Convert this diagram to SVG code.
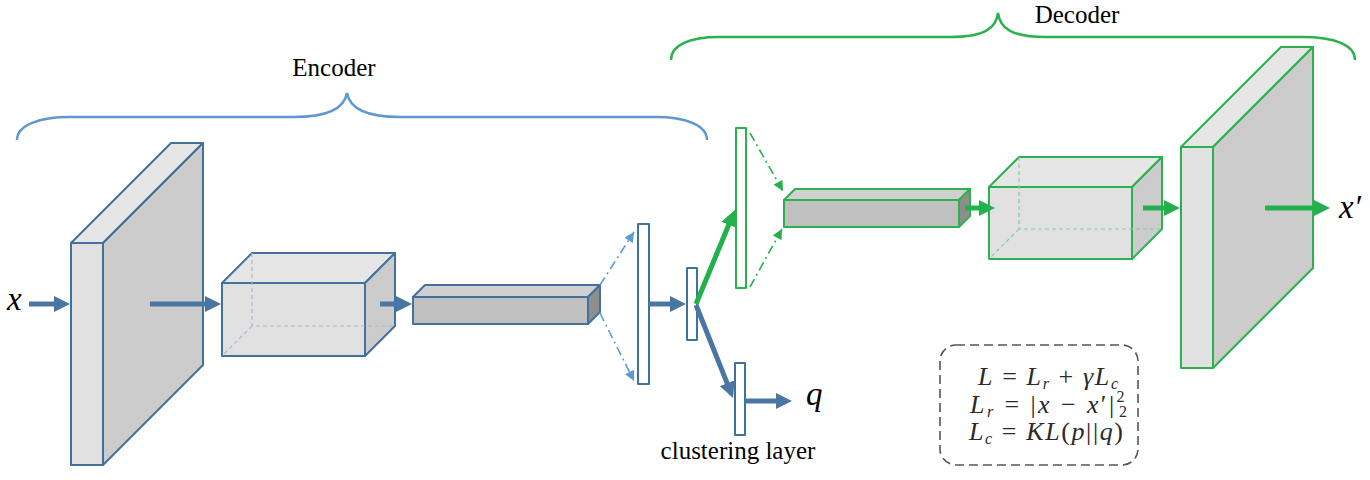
<svg xmlns="http://www.w3.org/2000/svg" width="1370" height="480" viewBox="0 0 1370 480">
<defs>
<style>
.bs{stroke:#41719c;stroke-width:2;stroke-linejoin:round}
.gs{stroke:#2bb24c;stroke-width:2;stroke-linejoin:round}
.f1{fill:#e1e1e1}.f2{fill:#e6e6e6}.f3{fill:#cccccc}
.b1{fill:#c0c0c0}.b2{fill:#d0d0d0}.b3{fill:#8e8e8e}
.w{fill:#ffffff}
.hb{fill:none;stroke:#a8b8ca;stroke-width:1.2;stroke-dasharray:4,3}
.hg{fill:none;stroke:#8cc9a0;stroke-width:1.2;stroke-dasharray:4,3}
.ab{fill:none;stroke:#4b76a3;stroke-width:5}
.ag{fill:none;stroke:#22b14c;stroke-width:5}
.db{fill:none;stroke:#5b9bd5;stroke-width:1.6;stroke-dasharray:9,4,2,4}
.dg{fill:none;stroke:#22b14c;stroke-width:1.6;stroke-dasharray:9,4,2,4}
.brb{fill:none;stroke:#5f97cf;stroke-width:2.5}
.brg{fill:none;stroke:#2bb24c;stroke-width:2.5}
.lbl{font-family:"Liberation Serif","Times New Roman",serif;font-size:25px;fill:#000}
.m{font-family:"Liberation Serif","DejaVu Serif",serif;font-style:italic;fill:#000}
.fm{font-family:"Liberation Serif","DejaVu Serif",serif;font-size:26px;fill:#2a2a2a}
.it{font-style:italic}
.sb{font-size:16px;font-style:italic}
</style>
<marker id="hb" viewBox="0 0 10 10" refX="1" refY="5" markerWidth="3.2" markerHeight="3.2" orient="auto"><path d="M0,0 L10,5 L0,10 z" fill="#4b76a3"/></marker>
<marker id="hg" viewBox="0 0 10 10" refX="1" refY="5" markerWidth="3.2" markerHeight="3.2" orient="auto"><path d="M0,0 L10,5 L0,10 z" fill="#22b14c"/></marker>
<marker id="tb" viewBox="0 0 10 10" refX="10" refY="5" markerWidth="11" markerHeight="10" markerUnits="userSpaceOnUse" orient="auto"><path d="M0,0 L10,5 L0,10 z" fill="#5b9bd5"/></marker>
<marker id="tg" viewBox="0 0 10 10" refX="10" refY="5" markerWidth="11" markerHeight="10" markerUnits="userSpaceOnUse" orient="auto"><path d="M0,0 L10,5 L0,10 z" fill="#22b14c"/></marker>
</defs>
<rect width="1370" height="480" fill="#ffffff"/>

<g id="encoder-brace">
<path class="brb" d="M17,140 C17,125 40,117 69,117 L294,117 C325,117 344,110 347,93 C350,110 369,117 400,117 L656,117 C685,117 707,125 707,140"/>
<text class="lbl" x="334" y="76" text-anchor="middle">Encoder</text>
</g>
<g id="decoder-brace">
<path class="brg" d="M671,60 C671,45 690,37 719,37 L950,37 C985,37 996,28 998,13 C1000,28 1011,37 1046,37 L1302,37 C1335,37 1355,45 1355,60"/>
<text class="lbl" x="1077" y="23" text-anchor="middle">Decoder</text>
</g>

<g id="enc-slab">
<polygon class="bs f2" points="71,243 171,143 203,143 103,243"/>
<polygon class="bs f3" points="103,243 203,143 203,365 103,465"/>
<rect class="bs f1" x="71" y="243" width="32" height="222"/>
</g>
<g id="enc-box">
<polygon class="bs f2" points="222,283 252,253 395,253 365,283"/>
<polygon class="bs f3" points="365,283 395,253 395,326 365,356"/>
<rect class="bs f1" x="222" y="283" width="143" height="73"/>
<path class="hb" d="M252,253 L252,326 L395,326 M252,326 L222,356"/>
</g>
<g id="enc-bar">
<polygon class="bs b2" points="413,297 425,285 600,285 588,297"/>
<polygon class="bs b3" points="588,297 600,285 600,312 588,324"/>
<rect class="bs b1" x="413" y="297" width="175" height="27"/>
</g>
<g id="enc-fc"><rect class="bs w" x="638" y="224" width="11" height="160"/></g>
<g id="embedding"><rect class="bs w" x="687" y="268" width="10" height="72"/></g>
<g id="clustering-layer">
<rect class="bs w" x="735" y="363" width="10" height="72"/>
<text class="lbl" x="738" y="459" text-anchor="middle">clustering layer</text>
</g>

<g id="dec-fc"><rect class="gs w" x="736" y="128" width="10" height="160"/></g>
<g id="dec-bar">
<polygon class="gs b2" points="784,200 795,189 970,189 959,200"/>
<polygon class="gs b3" points="959,200 970,189 970,216 959,227"/>
<rect class="gs b1" x="784" y="200" width="175" height="27"/>
</g>
<g id="dec-box">
<polygon class="gs f2" points="989,187 1019,157 1162,157 1132,187"/>
<polygon class="gs f3" points="1132,187 1162,157 1162,229 1132,259"/>
<rect class="gs f1" x="989" y="187" width="143" height="72"/>
<path class="hg" d="M1019,157 L1019,229 L1162,229 M1019,229 L989,259"/>
</g>
<g id="dec-slab">
<polygon class="gs f2" points="1181,147 1281,47 1313,47 1213,147"/>
<polygon class="gs f3" points="1213,147 1313,47 1313,268 1213,368"/>
<rect class="gs f1" x="1181" y="147" width="32" height="221"/>
</g>

<g id="connectors">
<line class="ab" x1="29" y1="304" x2="55.6" y2="304" marker-end="url(#hb)"/>
<line class="ab" x1="150" y1="304" x2="206.6" y2="304" marker-end="url(#hb)"/>
<line class="ab" x1="380" y1="304" x2="397.6" y2="304" marker-end="url(#hb)"/>
<line class="ab" x1="649" y1="304" x2="671.6" y2="304" marker-end="url(#hb)"/>
<line class="ab" x1="696" y1="305" x2="727.7" y2="384.6" marker-end="url(#hb)"/>
<line class="ab" x1="745" y1="401" x2="777.6" y2="401" marker-end="url(#hb)"/>
<line class="ag" x1="696" y1="304" x2="729.4" y2="223.3" marker-end="url(#hg)"/>
<line class="ag" x1="965" y1="208" x2="980.6" y2="208" marker-end="url(#hg)"/>
<line class="ag" x1="1143" y1="208" x2="1165.6" y2="208" marker-end="url(#hg)"/>
<line class="ag" x1="1265" y1="208" x2="1315.6" y2="208" marker-end="url(#hg)"/>
<line class="db" x1="600" y1="285" x2="634" y2="232" marker-end="url(#tb)"/>
<line class="db" x1="600" y1="313" x2="634" y2="381" marker-end="url(#tb)"/>
<line class="dg" x1="750" y1="133" x2="783" y2="191" marker-end="url(#tg)"/>
<line class="dg" x1="750" y1="287" x2="782" y2="229" marker-end="url(#tg)"/>
</g>

<g id="io-labels">
<text class="m" x="7" y="310" font-size="33">x</text>
<text class="m" x="1339" y="218" font-size="33">x′</text>
<text class="m" x="806" y="405" font-size="33">q</text>
</g>

<g id="loss-box">
<rect x="940" y="345" width="198" height="120" rx="16" fill="none" stroke="#555" stroke-width="1.6" stroke-dasharray="9,5"/>
<text class="fm" x="978" y="385" textLength="140" lengthAdjust="spacing"><tspan class="it">L</tspan> = <tspan class="it">L</tspan><tspan class="sb" dy="4">r</tspan><tspan dy="-4"> + </tspan><tspan class="it">γL</tspan><tspan class="sb" dy="4">c</tspan></text>
<text class="fm" x="970" y="413" textLength="157" lengthAdjust="spacing"><tspan class="it">L</tspan><tspan class="sb" dy="4">r</tspan><tspan dy="-4"> = |</tspan><tspan class="it">x</tspan> − <tspan class="it">x</tspan>′|<tspan font-size="16" dy="-11">2</tspan><tspan font-size="16" dx="-8" dy="15">2</tspan></text>
<text class="fm" x="969" y="440" textLength="154" lengthAdjust="spacing"><tspan class="it">L</tspan><tspan class="sb" dy="4">c</tspan><tspan dy="-4"> = </tspan><tspan class="it">KL</tspan>(<tspan class="it">p</tspan>||<tspan class="it">q</tspan>)</text>
</g>
</svg>
